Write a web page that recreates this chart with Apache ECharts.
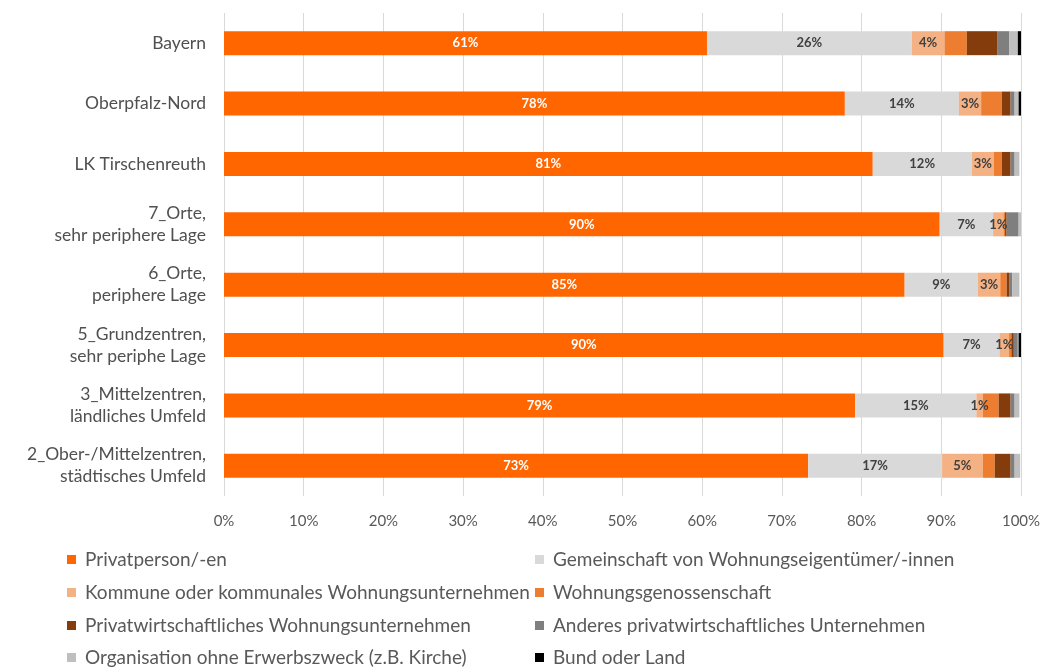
<!DOCTYPE html>
<html><head><meta charset="utf-8">
<script src="https://cdn.jsdelivr.net/npm/echarts@6/dist/echarts.min.js"></script>
<style>html,body{margin:0;padding:0;background:#fff}#c{width:1046px;height:669px}</style>
</head><body><div id="c"></div>
<script>
const categories = ["Bayern","Oberpfalz-Nord","LK Tirschenreuth","7_Orte,\nsehr periphere Lage","6_Orte,\nperiphere Lage","5_Grundzentren,\nsehr periphe Lage","3_Mittelzentren,\nländliches Umfeld","2_Ober-/Mittelzentren,\nstädtisches Umfeld"];
const seriesNames = ["Privatperson/-en","Gemeinschaft von Wohnungseigentümer/-innen","Kommune oder kommunales Wohnungsunternehmen","Wohnungsgenossenschaft","Privatwirtschaftliches Wohnungsunternehmen","Anderes privatwirtschaftliches Unternehmen","Organisation ohne Erwerbszweck (z.B. Kirche)","Bund oder Land"];
const privatperson   = [60.6, 77.9, 81.4, 89.8, 85.4, 90.3, 79.2, 73.3];
const gemeinschaft   = [25.7, 14.3, 12.4, 6.7, 9.2, 7.0, 15.2, 16.8];
const kommune        = [4.1, 2.8, 2.8, 1.3, 2.8, 1.2, 0.8, 5.1];
const genossenschaft = [2.8, 2.6, 1.0, 0.2, 0.8, 0.3, 2.0, 1.5];
const privatwirt     = [3.8, 1.1, 1.1, 0.2, 0.3, 0.3, 1.5, 2.0];
const anderes        = [1.5, 0.5, 0.5, 1.5, 0.4, 0.5, 0.5, 0.5];
const organisation   = [1.1, 0.5, 0.6, 0.3, 0.9, 0.1, 0.6, 0.7];
const bundLand       = [0.5, 0.3, 0.0, 0.0, 0.0, 0.3, 0.0, 0.0];
const xTicks = [0,10,20,30,40,50,60,70,80,90,100];

const values = [privatperson, gemeinschaft, kommune, genossenschaft, privatwirt, anderes, organisation, bundLand];
const colors = ["#FF6600","#D9D9D9","#F4B183","#ED7D31","#843C0C","#7F7F7F","#BFBFBF","#000000"];
const labelColors = ["#ffffff","#404040","#404040",null,null,null,null,null];
const FONT = "Lato";

const chart = echarts.init(document.getElementById('c'), null, {renderer:'canvas'});
const series = values.map((v,i)=>({
  name: seriesNames[i], type:'bar', stack:'total', data:v, barWidth:24,
  itemStyle:{color:colors[i]},
  label: labelColors[i] ? {show:true, position:'inside', color:labelColors[i], fontWeight:'bold', fontSize:13, fontFamily:FONT,
    formatter:p=>Math.round(p.value)+'%'} : {show:false},
  emphasis:{disabled:true}
}));
const legendText = {fontFamily:FONT, fontSize:19, color:'#595959'};
const rowCenters = [561, 594, 627, 659];
const legends = seriesNames.map((n,i)=>({
  data:[n], orient:'horizontal', left: i%2===0 ? 65 : 533, top: rowCenters[Math.floor(i/2)]-13,
  padding:[2,2], itemWidth:9, itemHeight:9, itemGap:9, icon:'rect',
  textStyle:Object.assign({padding:[0,0,0,4]}, legendText), selectedMode:false
}));
chart.setOption({
  animation:false,
  grid:{left:224, right:25, top:13, bottom:173},
  xAxis:{type:'value', min:0, max:100, interval:10,
    axisLabel:{formatter:v=>v+'%', fontFamily:FONT, fontSize:15, color:'#595959', margin:18},
    splitLine:{lineStyle:{color:'#D9D9D9'}}, axisLine:{show:false}, axisTick:{show:false}},
  yAxis:{type:'category', data:categories, inverse:true,
    axisLabel:{fontFamily:FONT, fontSize:17.5, color:'#505050', margin:18, lineHeight:22, align:'right'},
    axisLine:{show:false}, axisTick:{show:false}},
  legend:legends,
  series
});
</script></body></html>
